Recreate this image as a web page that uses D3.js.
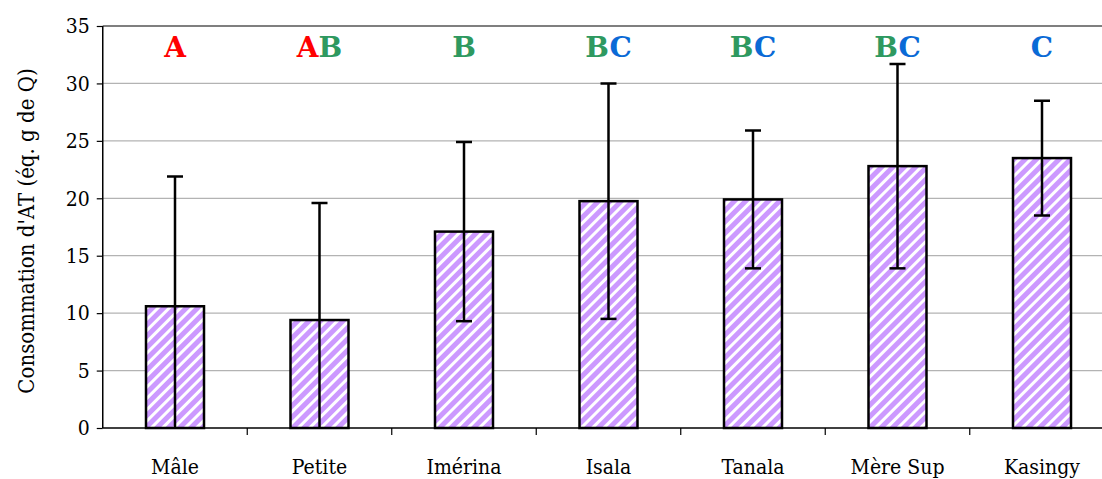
<!DOCTYPE html>
<html><head><meta charset="utf-8">
<script src="https://cdn.jsdelivr.net/npm/d3@7"></script>
<style>body{margin:0;background:#fff}svg{display:block}
text{font-family:"DejaVu Serif Condensed","DejaVu Serif",serif}
text.bold{font-family:"DejaVu Serif",serif}</style>
</head><body>
<script>
const categories = ["Mâle","Petite","Imérina","Isala","Tanala","Mère Sup","Kasingy"];
const means = [10.6, 9.4, 17.1, 19.75, 19.9, 22.8, 23.5];
const errors = [11.3, 10.2, 7.8, 10.25, 6.0, 8.9, 5.0];
const groups = [["A"],["A","B"],["B"],["B","C"],["B","C"],["B","C"],["C"]];
const groupColors = {A:"#ff0000", B:"#2e9960", C:"#0a6ad6"};
const yTicks = [0,5,10,15,20,25,30,35];

(function(){
const W=1102,H=479;
const svg=d3.select("body").append("svg").attr("width",W).attr("height",H);
const mLeft=102.75, mTop=26, mBottom=428;
const x=d3.scaleBand().domain(categories).range([mLeft,mLeft+7*144.5]).padding(0);
const y=d3.scaleLinear().domain([0,35]).range([mBottom,mTop]);

const defs=svg.append("defs");
const pat=defs.append("pattern").attr("id","hatch").attr("patternUnits","userSpaceOnUse")
  .attr("width",8).attr("height",8).attr("patternTransform","rotate(45)");
pat.append("rect").attr("width",8).attr("height",8).attr("fill","#cc99ff");
pat.append("rect").attr("x",0).attr("width",3).attr("height",8).attr("fill","#ffffff");
const clip=defs.append("clipPath").attr("id","plot");
clip.append("rect").attr("x",mLeft).attr("y",mTop).attr("width",W-mLeft).attr("height",mBottom-mTop);

svg.append("g").selectAll("line").data(yTicks.filter(d=>d>0&&d<35)).join("line")
  .attr("x1",mLeft).attr("x2",W).attr("y1",d=>y(d)).attr("y2",d=>y(d))
  .attr("stroke","#b3b3b3").attr("stroke-width",1.3);
svg.append("line").attr("x1",mLeft).attr("x2",W).attr("y1",y(35)).attr("y2",y(35))
  .attr("stroke","#555").attr("stroke-width",1.5);

const bw=58;
svg.append("g").selectAll("rect").data(categories).join("rect")
  .attr("x",(d)=>x(d)+x.bandwidth()/2-bw/2).attr("width",bw)
  .attr("y",(d,i)=>y(means[i])).attr("height",(d,i)=>y(0)-y(means[i]))
  .attr("fill","url(#hatch)").attr("stroke","#000").attr("stroke-width",2.5);

const eg=svg.append("g").attr("clip-path","url(#plot)");
categories.forEach((c,i)=>{
  const cx=x(c)+x.bandwidth()/2;
  const hi=means[i]+errors[i], lo=means[i]-errors[i];
  eg.append("line").attr("x1",cx).attr("x2",cx).attr("y1",y(hi)).attr("y2",y(lo)).attr("stroke","#000").attr("stroke-width",2.5);
  [hi,lo].forEach(v=>eg.append("line").attr("x1",cx-8).attr("x2",cx+8).attr("y1",y(v)).attr("y2",y(v)).attr("stroke","#000").attr("stroke-width",2.5));
});

const ya=svg.append("g").attr("transform",`translate(${mLeft},0)`)
  .call(d3.axisLeft(y).tickValues(yTicks).tickSize(6).tickPadding(7).tickFormat(d3.format("d")));
ya.attr("font-family",null);
ya.select(".domain").attr("d",`M0,${mTop}V${mBottom}`).attr("stroke","#000").attr("stroke-width",1.5);
ya.selectAll(".tick line").attr("stroke","#000").attr("stroke-width",1.2);
ya.selectAll("text").attr("font-size",21).attr("fill","#000");

svg.append("line").attr("x1",mLeft).attr("x2",W).attr("y1",mBottom).attr("y2",mBottom).attr("stroke","#000").attr("stroke-width",1.5);
const bounds=categories.map((c)=>x(c)).slice(1).concat([x(categories[6])+x.bandwidth()]);
svg.append("g").selectAll("line").data(bounds).join("line")
  .attr("x1",d=>d).attr("x2",d=>d).attr("y1",mBottom).attr("y2",mBottom+7).attr("stroke","#000").attr("stroke-width",1.2);
svg.append("g").selectAll("text").data(categories).join("text")
  .attr("x",d=>x(d)+x.bandwidth()/2).attr("y",474).attr("text-anchor","middle")
  .attr("font-size",21).attr("fill","#000").text(d=>d);

svg.append("text").attr("transform",`translate(34,${(mTop+mBottom)/2 + 4}) rotate(-90)`)
  .attr("text-anchor","middle").attr("font-size",22).attr("fill","#000")
  .text("Consommation d'AT (éq. g de Q)");

const lt=svg.append("g").selectAll("text").data(categories).join("text").attr("class","bold")
  .attr("x",d=>x(d)+x.bandwidth()/2).attr("y",57).attr("text-anchor","middle")
  .attr("font-weight","bold").attr("font-size",28);
lt.each(function(d,i){
  const t=d3.select(this);
  groups[i].forEach(g=>t.append("tspan").attr("fill",groupColors[g]).text(g));
});
})();
</script>
</body></html>
